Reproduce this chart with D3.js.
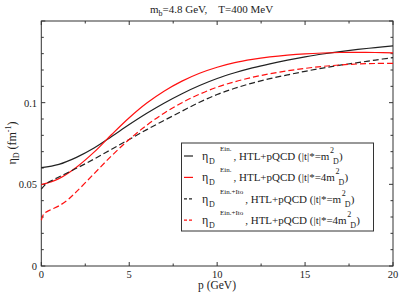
<!DOCTYPE html>
<html><head><meta charset="utf-8">
<script src="https://cdn.jsdelivr.net/npm/d3@7"></script>
<style>body{margin:0;background:#fff}svg{display:block}</style>
</head><body>
<script>
// Data (p in GeV, eta_D in fm^-1)
const pEinM = [0,1,2,3,4,5,6,7,8,9,10,11,12,13,14,15,16,17,18,19,20];
const etaEinM = [0.0602,0.0622,0.0665,0.0722,0.0793,0.0866,0.0935,0.0998,0.1055,0.1105,0.1148,0.1183,0.1213,0.1238,0.126,0.128,0.1298,0.1313,0.1326,0.1337,0.1348];
const pEin4M = [0,1,2,3,4,5,6,7,8,9,10,11,12,13,14,15,16,17,18,19,20];
const etaEin4M = [0.0498,0.0535,0.0605,0.0697,0.0805,0.0908,0.0998,0.1072,0.1132,0.118,0.1217,0.1245,0.1265,0.128,0.1291,0.1299,0.1304,0.1307,0.1308,0.1307,0.1305];
const pItoM = [0,0.3,1,2,3,4,5,6,7,8,9,10,11,12,13,14,15,16,17,18,19,20];
const etaItoM = [0.047,0.0505,0.0545,0.0598,0.0655,0.0715,0.0775,0.0835,0.0892,0.0948,0.1003,0.105,0.1088,0.112,0.1147,0.117,0.1192,0.1212,0.123,0.1245,0.1261,0.1276];
const pIto4M = [0,0.15,0.5,1,1.5,2,3,4,5,6,7,8,9,10,11,12,13,14,15,16,17,18,19,20];
const etaIto4M = [0.028,0.032,0.0343,0.0368,0.0405,0.0455,0.0565,0.0675,0.0775,0.0862,0.0937,0.1,0.1052,0.1095,0.1128,0.1155,0.1177,0.1195,0.121,0.1222,0.1231,0.1237,0.124,0.1241];
const xTicks = [0,5,10,15,20];
const yTickLabels = [[0,"0"],[0.05,"0.05"],[0.1,"0.1"]];

const W=399,H=292;
const FONT="'Liberation Serif','DejaVu Serif',serif";
const svg=d3.select("body").append("svg").attr("width",W).attr("height",H)
  .attr("font-family",FONT).style("font-family",FONT).attr("fill","#222");
const x=d3.scaleLinear().domain([0,20]).range([41.3,393]);
const y=d3.scaleLinear().domain([0,0.15]).range([266,21]);
const ax="#333";

// frame
svg.append("rect").attr("x",x(0)).attr("y",y(0.15)).attr("width",x(20)-x(0)).attr("height",y(0)-y(0.15))
  .attr("fill","none").attr("stroke",ax).attr("stroke-width",1);

// ticks (inward, all sides)
const g=svg.append("g").attr("stroke",ax).attr("stroke-width",1);
d3.range(0,20.01,2.5).forEach(v=>{
  const major=Math.abs(v%5)<1e-6, L=major?4:2.5;
  g.append("line").attr("x1",x(v)).attr("x2",x(v)).attr("y1",y(0)).attr("y2",y(0)-L);
  g.append("line").attr("x1",x(v)).attr("x2",x(v)).attr("y1",y(0.15)).attr("y2",y(0.15)+L);
});
d3.range(0,0.1501,0.01).forEach(v=>{
  const major=Math.abs(Math.round(v*100)%5)===0, L=major?4:2.5;
  g.append("line").attr("y1",y(v)).attr("y2",y(v)).attr("x1",x(0)).attr("x2",x(0)+L);
  g.append("line").attr("y1",y(v)).attr("y2",y(v)).attr("x1",x(20)).attr("x2",x(20)-L);
});
xTicks.forEach(v=>svg.append("text").attr("x",x(v)).attr("y",277.5).attr("text-anchor","middle").attr("font-size",10.5).text(v));
yTickLabels.forEach(([v,t])=>svg.append("text").attr("x",37).attr("y",y(v)+4).attr("text-anchor","end").attr("font-size",10.5).text(t));

// axis titles
svg.append("text").attr("x",217).attr("y",288.5).attr("text-anchor","middle").attr("font-size",11.5).text("p (GeV)");
const yl=svg.append("text").attr("transform","translate(16,143) rotate(-90)").attr("text-anchor","middle").attr("font-size",12);
yl.append("tspan").text("η");
yl.append("tspan").attr("font-size",8).attr("dy",3).text("D");
yl.append("tspan").attr("dy",-3).text(" (fm");
yl.append("tspan").attr("font-size",8).attr("dy",-5).text("-1");
yl.append("tspan").attr("dy",5).text(")");

// title
const tt=svg.append("text").attr("x",150).attr("y",13).attr("font-size",11);
tt.append("tspan").text("m");
tt.append("tspan").attr("font-size",8).attr("dy",3).text("b");
tt.append("tspan").attr("dy",-3).text("=4.8 GeV,\u00A0\u00A0\u00A0\u00A0T=400 MeV");

// curves
const series=[
  {p:pEinM,v:etaEinM,c:"#222",d:null},
  {p:pEin4M,v:etaEin4M,c:"#ff1010",d:null},
  {p:pItoM,v:etaItoM,c:"#222",d:"6,3"},
  {p:pIto4M,v:etaIto4M,c:"#ff1010",d:"6,3"}
];
const line=d3.line().curve(d3.curveCatmullRom.alpha(0.5));
series.forEach(s=>{
  svg.append("path").attr("d",line(s.p.map((p,i)=>[x(p),y(s.v[i])])))
    .attr("fill","none").attr("stroke",s.c).attr("stroke-width",1.2).attr("stroke-dasharray",s.d);
});

// legend
svg.append("rect").attr("x",181.5).attr("y",143).attr("width",192).attr("height",88).attr("fill","#fff").attr("stroke",ax).attr("stroke-width",1);
const sups=["Ein.","Ein.","Ein.+Ito","Ein.+Ito"];
const fac=["","4","","4"];
series.forEach((s,i)=>{
  const cy=156+i*21.4;
  svg.append("line").attr("x1",184).attr("x2",193).attr("y1",cy).attr("y2",cy).attr("stroke",s.c).attr("stroke-width",1.2).attr("stroke-dasharray",s.d?"3,2":null);
  svg.append("text").attr("x",202).attr("y",cy+4).attr("font-size",12).text("η");
  svg.append("text").attr("x",209).attr("y",cy+8).attr("font-size",8).text("D");
  const sp=svg.append("text").attr("x",220).attr("y",cy-5).attr("font-size",7).text(sups[i]);
  const x0=220+sp.node().getComputedTextLength()+2;
  const t=svg.append("text").attr("x",x0).attr("y",cy+4).attr("font-size",11).text(", HTL+pQCD (|t|*="+fac[i]+"m");
  const x1=x0+t.node().getComputedTextLength();
  svg.append("text").attr("x",x1+0.5).attr("y",cy-3).attr("font-size",8).text("2");
  svg.append("text").attr("x",x1+3.5).attr("y",cy+8).attr("font-size",8).text("D");
  svg.append("text").attr("x",x1+9.5).attr("y",cy+4).attr("font-size",11).text(")");
});
</script>
</body></html>
